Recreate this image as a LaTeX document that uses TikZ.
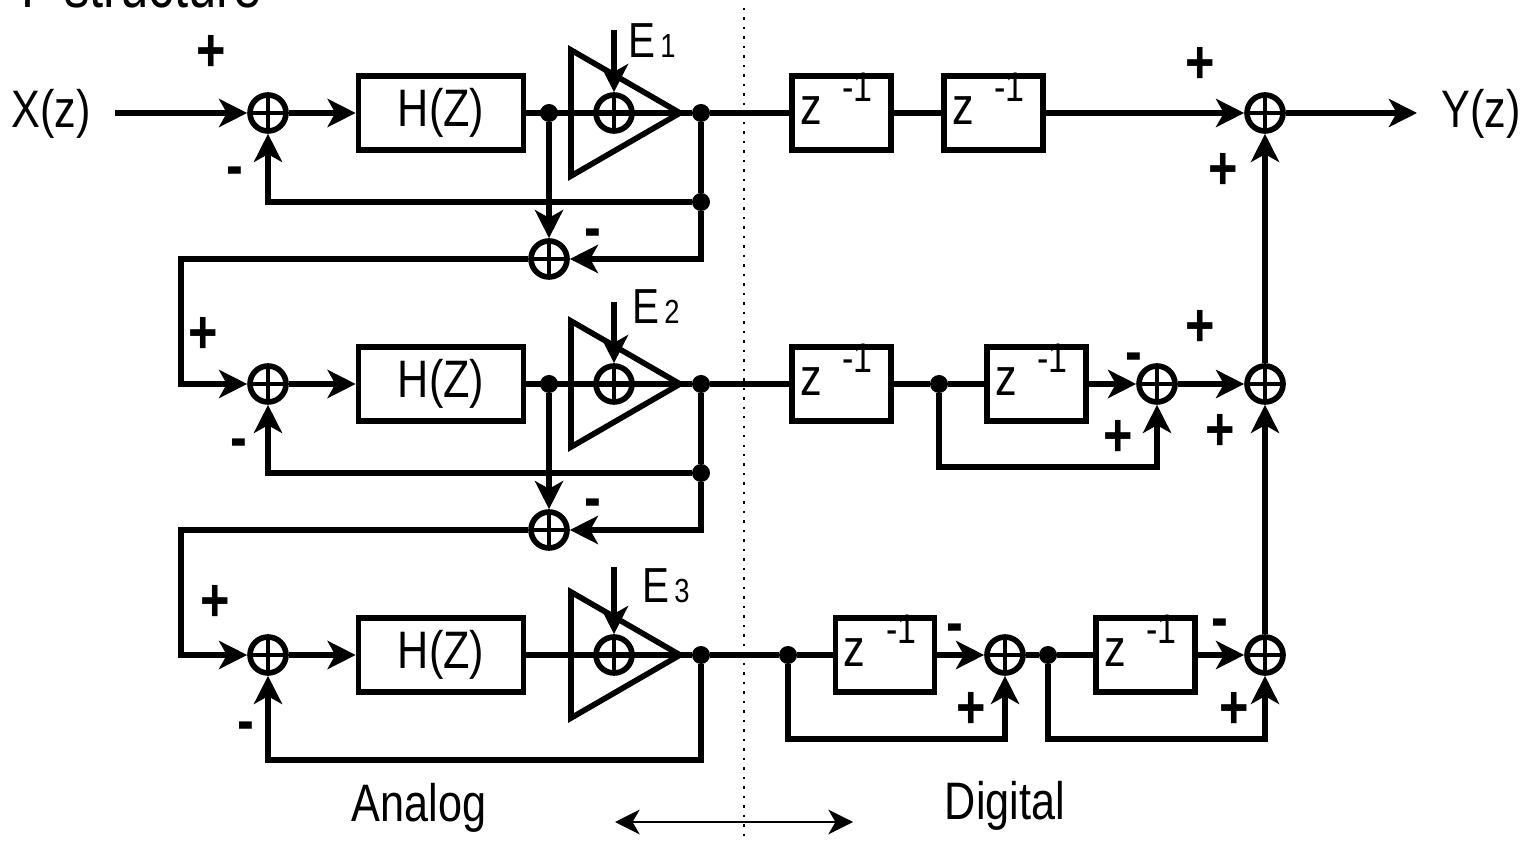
\documentclass[tikz,border=0pt]{standalone}
\usepackage{fontspec}
\setmainfont[FakeStretch=0.82]{Liberation Sans}
\usetikzlibrary{arrows.meta}

\begin{document}
\begin{tikzpicture}[line width=1.6pt,
        sumnode/.style={circle, draw, minimum size=0.36cm, inner sep=0pt,
            path picture={\draw[line width=1pt] (path picture bounding box.north) -- (path picture bounding box.south)
                (path picture bounding box.west) -- (path picture bounding box.east);}},
        hbox/.style={rectangle, draw, minimum width=1.65cm, minimum height=0.74cm, inner sep=0pt, font=\fontsize{15}{16}\selectfont},
        zbox/.style={rectangle, draw, minimum width=0.99cm, minimum height=0.74cm, inner sep=0pt},
        dot/.style={circle, fill, minimum size=0.18cm, inner sep=0pt, outer sep=0pt},
        arr/.style={-{Stealth[length=8pt,width=8pt,inset=2.2pt]}},
        sign/.style={font=\fontsize{17.5}{18}\selectfont\bfseries, inner sep=0pt},
        txt/.style={font=\fontsize{15}{16}\selectfont, inner sep=0pt}]
    \newcommand{\zinv}{\makebox[0.97cm][l]{\hspace*{0.07cm}\raisebox{-0.12cm}[0pt][0pt]{\fontsize{15}{16}\selectfont z}\hspace{0.21cm}\raisebox{0.11cm}[0pt][0pt]{\fontsize{11.8}{13}\selectfont -1}}}
    \useasboundingbox (0,0) rectangle (15.28,-8.41);

    \node at (1.37,0.13) [txt, font=\fontsize{17.6}{18}\selectfont] (title) {T\hspace{0.07cm} structure};
    \node at (0.51,-1.14) [txt] (xz) {X(z)};
    \node at (14.81,-1.14) [txt] (yz) {Y(z)};
    \node at (4.19,-8.08) [txt] (analog) {Analog};
    \node at (10.05,-8.06) [txt] (digital) {Digital};

    % analog rows
    \foreach \rowy/\n/\eoff/\ex/\ey in {-1.13/1/0.83/6.52/-0.41, -3.84/2/0.82/6.56/-3.07, -6.55/3/0.88/6.66/-5.86} {
        \node at (2.68,\rowy) [sumnode] (sum\n) {};
        \node at (4.41,\rowy) [hbox] (hbox\n) {H(Z)};
        \node at (6.14,\rowy) [sumnode] (ampsum\n) {};
        \node at (7.01,\rowy) [dot] (dout\n) {};
        \coordinate (e\n) at (6.14,{\rowy+\eoff});
        \node at (\ex,\ey) [txt, font=\fontsize{14}{15}\selectfont] (elabel\n) {E\hspace{0.05cm}{\fontsize{9.5}{10}\selectfont\n}};
        \draw[shift={(0,\rowy)}, line join=miter] (5.71,0.63) -- (6.80,0) -- (5.71,-0.63) -- cycle;
        \draw[arr] (sum\n) -- (hbox\n);
        \draw (hbox\n) -- (dout\n);
        \draw[arr] (e\n) -- (ampsum\n);
    }
    \node at (5.49,-1.13) [dot] (dh1) {};
    \node at (5.49,-3.84) [dot] (dh2) {};

    % interstage
    \node at (7.01,-2.02) [dot] (dfb1) {};
    \node at (7.01,-4.73) [dot] (dfb2) {};
    \node at (5.49,-2.59) [sumnode] (diff1) {};
    \node at (5.49,-5.30) [sumnode] (diff2) {};
    \coordinate (corner1) at (1.81,-2.59);
    \coordinate (corner2) at (1.81,-5.30);
    \coordinate (corner3) at (7.01,-7.60);
    \draw (dout1) -- (dfb1);
    \draw (dout2) -- (dfb2);
    \draw[arr] (dfb1) -| (sum1);
    \draw[arr] (dfb2) -| (sum2);
    \draw[arr] (dfb1) |- (diff1);
    \draw[arr] (dfb2) |- (diff2);
    \draw[arr] (dh1) -- (diff1);
    \draw[arr] (dh2) -- (diff2);
    \draw[arr] (diff1) -- (corner1) |- (sum2);
    \draw[arr] (diff2) -- (corner2) |- (sum3);
    \draw[arr] (dout3) -- (corner3) -| (sum3);
    \coordinate (xin) at (1.15,-1.13);
    \coordinate (yout) at (14.17,-1.13);
    \draw[arr] (xin) -- (sum1);

    % digital side
    \node at (8.415,-1.13) [zbox] (z11) {\zinv};
    \node at (9.935,-1.13) [zbox] (z12) {\zinv};
    \node at (8.415,-3.84) [zbox] (z21) {\zinv};
    \node at (10.365,-3.84) [zbox] (z22) {\zinv};
    \node at (8.85,-6.55) [zbox] (z31) {\zinv};
    \node at (11.455,-6.55) [zbox] (z32) {\zinv};
    \node at (12.65,-1.13) [sumnode] (out1) {};
    \node at (12.65,-3.84) [sumnode] (out2) {};
    \node at (12.65,-6.55) [sumnode] (out3) {};
    \node at (11.57,-3.84) [sumnode] (sub2) {};
    \node at (10.05,-6.55) [sumnode] (sub3) {};
    \node at (9.39,-3.84) [dot] (dz2) {};
    \node at (7.88,-6.55) [dot] (dz3) {};
    \node at (10.48,-6.55) [dot] (dz4) {};
    \coordinate (low2) at (9.39,-4.67);
    \coordinate (low3) at (7.88,-7.39);
    \coordinate (low4) at (10.48,-7.39);

    \draw (dout1) -- (z11);
    \draw (z11) -- (z12);
    \draw[arr] (z12) -- (out1);
    \draw[arr] (out1) -- (yout);
    \draw (dout2) -- (z21);
    \draw (z21) -- (dz2) -- (z22);
    \draw[arr] (z22) -- (sub2);
    \draw[arr] (sub2) -- (out2);
    \draw[arr] (dz2) -- (low2) -| (sub2);
    \draw (dout3) -- (dz3) -- (z31);
    \draw[arr] (z31) -- (sub3);
    \draw (sub3) -- (dz4) -- (z32);
    \draw[arr] (z32) -- (out3);
    \draw[arr] (dz3) -- (low3) -| (sub3);
    \draw[arr] (dz4) -- (low4) -| (out3);
    \draw[arr] (out3) -- (out2);
    \draw[arr] (out2) -- (out1);

    % signs
    \foreach \sx/\sy/\st in {2.11/-0.53/+, 2.35/-1.77/-, 2.03/-3.35/+, 2.39/-4.49/-, 2.15/-6.03/+, 2.46/-7.32/-,
        5.93/-2.39/-, 5.93/-5.09/-, 12.00/-0.65/+, 12.23/-1.71/+, 12.00/-3.28/+, 12.20/-4.32/+,
        11.34/-3.63/-, 11.18/-4.38/+, 9.55/-6.34/-, 9.71/-7.10/+, 12.20/-6.29/-, 12.34/-7.10/+} {
        \node at (\sx,\sy) [sign] {\st};
    }

    % boundary
    \coordinate (bndtop) at (7.44,-0.08);
    \coordinate (bndlow) at (7.44,-8.41);
    \coordinate (spanl) at (6.15,-8.22);
    \coordinate (spanr) at (8.53,-8.22);
    \draw[line width=0.7pt, dotted] (bndtop) -- (bndlow);
    \draw[line width=0.7pt, {Stealth[length=7pt,width=7pt,inset=2pt]}-{Stealth[length=7pt,width=7pt,inset=2pt]}] (spanl) -- (spanr);
\end{tikzpicture}
\end{document}
